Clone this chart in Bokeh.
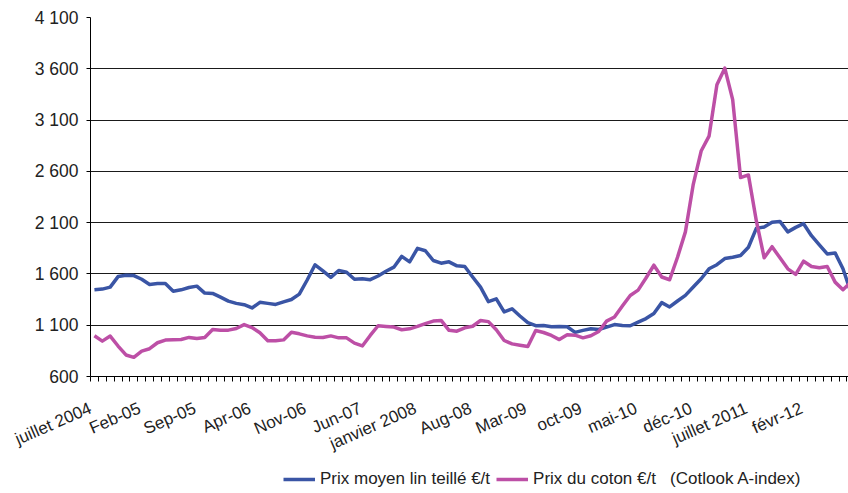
from bokeh.plotting import figure
from bokeh.layouts import column
from bokeh.models import FixedTicker, Legend, LegendItem, Range1d
from bokeh.embed import file_html
from bokeh.resources import INLINE

# Monthly values, July 2004 -> mid 2012 (EUR/t)
lin = [1445, 1452, 1471, 1574, 1587, 1584, 1548, 1497, 1506, 1506,
       1432, 1445, 1468, 1481, 1413, 1410, 1374, 1335, 1313, 1300,
       1268, 1323, 1313, 1303, 1328, 1351, 1403, 1541, 1689, 1630,
       1567, 1633, 1616, 1548, 1554, 1544, 1580, 1626, 1666, 1771,
       1718, 1849, 1826, 1731, 1705, 1718, 1679, 1672, 1570, 1471,
       1330, 1357, 1230, 1260, 1190, 1125, 1095, 1097, 1085, 1087,
       1085, 1030, 1050, 1065, 1058, 1081, 1106, 1097, 1095, 1130,
       1165, 1215, 1320, 1278, 1336, 1391, 1472, 1553, 1650, 1690,
       1750, 1763, 1779, 1860, 2044, 2058, 2103, 2112, 2010, 2054,
       2090, 1973, 1883, 1795, 1805, 1650, 1420]

coton = [997, 945, 994, 897, 810, 787, 848, 871, 929, 955,
         958, 961, 981, 971, 981, 1058, 1052, 1052, 1068, 1106,
         1077, 1026, 948, 948, 957, 1032, 1016, 996, 983, 980,
         996, 977, 977, 925, 898, 1000, 1095, 1088, 1082, 1056,
         1065, 1088, 1115, 1140, 1147, 1050, 1042, 1075, 1090, 1146,
         1135, 1055, 951, 918, 905, 892, 1048, 1029, 1000, 960,
         1007, 1003, 977, 997, 1039, 1140, 1180, 1287, 1390, 1442,
         1560, 1685, 1570, 1543, 1763, 2010, 2474, 2798, 2943, 3445,
         3606, 3299, 2539, 2565, 2119, 1757, 1866, 1757, 1650, 1595,
         1724, 1672, 1660, 1672, 1520, 1446, 1520]

x_labels = ["juillet 2004", "Feb-05", "Sep-05", "Apr-06", "Nov-06", "Jun-07",
            "janvier 2008", "Aug-08", "Mar-09", "oct-09", "mai-10", "déc-10",
            "juillet 2011", "févr-12"]
label_step = 7

y_ticks = [600, 1100, 1600, 2100, 2600, 3100, 3600, 4100]
y_labels = ["600", "1 100", "1 600", "2 100", "2 600", "3 100", "3 600", "4 100"]

series_names = ["Prix moyen lin teillé €/t",
                "Prix du coton €/t\u00a0\u00a0\u00a0(Cotlook A-index)"]

BLUE = "#3A55A5"
PINK = "#BD4FA6"
FONT = "Liberation Sans"
TXT = "#222222"

months = list(range(len(lin)))
X_START, X_END = -0.5, 95.7

p = figure(width=848, height=469, output_backend="svg", toolbar_location=None,
           x_range=Range1d(X_START, X_END), y_range=Range1d(600, 4100),
           min_border_left=90, min_border_right=0, min_border_top=17,
           min_border_bottom=93)
p.outline_line_color = None
p.background_fill_color = "white"
p.border_fill_color = "white"

p.line(months, lin, line_color=BLUE, line_width=3.5, line_join="round")
p.line(months, coton, line_color=PINK, line_width=3.5, line_join="round")

# label anchors sit a little left of the category centre, as in the source
tick_pos = [max(i * label_step - 1.25, X_START + 0.01) for i in range(len(x_labels))]
p.xaxis.ticker = FixedTicker(ticks=tick_pos,
                             minor_ticks=[i - 0.5 for i in range(len(lin) + 1)])
p.xaxis.major_label_overrides = {t: l for t, l in zip(tick_pos, x_labels)}
p.xaxis.major_label_orientation = 0.41
p.xaxis.major_tick_out = 0
p.xaxis.major_tick_in = 0
p.xaxis.minor_tick_out = 5
p.xaxis.minor_tick_in = 0
p.xaxis.minor_tick_line_color = "black"
p.xaxis.axis_line_color = "black"
p.xaxis.major_label_standoff = 26

p.yaxis.ticker = FixedTicker(ticks=y_ticks)
p.yaxis.major_label_overrides = {t: l for t, l in zip(y_ticks, y_labels)}
p.yaxis.major_tick_out = 4
p.yaxis.major_tick_in = 0
p.yaxis.minor_tick_line_color = None
p.yaxis.axis_line_color = "black"
p.yaxis.major_tick_line_color = "black"
p.yaxis.major_label_standoff = 8

p.xaxis.major_label_text_font_size = "17px"
p.yaxis.major_label_text_font_size = "17.5px"
for ax in (p.xaxis, p.yaxis):
    ax.major_label_text_font = FONT
    ax.major_label_text_color = TXT

p.xgrid.grid_line_color = None
p.ygrid.ticker = FixedTicker(ticks=y_ticks)
p.ygrid.grid_line_color = "#1a1a1a"
p.ygrid.grid_line_width = 1

# legend strip underneath
pl = figure(width=848, height=24, output_backend="svg", toolbar_location=None,
            x_axis_location=None, y_axis_location=None,
            x_range=Range1d(0, 1), y_range=Range1d(0, 1),
            min_border=0)
pl.outline_line_color = None
pl.grid.grid_line_color = None
lr1 = pl.line([-10, -9], [-10, -10], line_color=BLUE, line_width=3.5)
lr2 = pl.line([-10, -9], [-10, -10], line_color=PINK, line_width=3.5)
legend = Legend(items=[LegendItem(label=series_names[0], renderers=[lr1]),
                       LegendItem(label=series_names[1], renderers=[lr2])],
                location=(193, 4), orientation="horizontal",
                padding=0, margin=0, spacing=6, label_standoff=5,
                glyph_width=32, glyph_height=20, label_height=20,
                border_line_color=None, background_fill_alpha=0,
                label_text_font=FONT, label_text_font_size="17px",
                label_text_color=TXT)
pl.add_layout(legend, "center")

layout = column(p, pl, spacing=0)
open("out.html", "w").write(file_html(layout, INLINE))
